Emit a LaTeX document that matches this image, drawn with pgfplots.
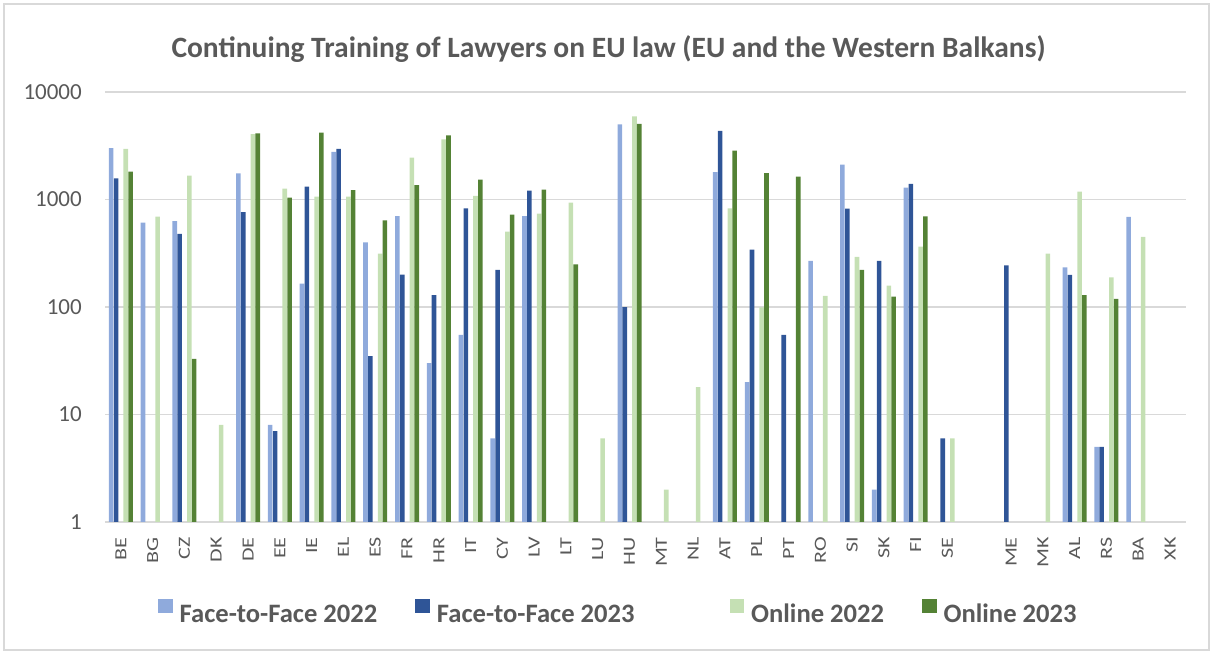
\documentclass[border=0pt]{standalone}
\usepackage{fontspec}
\setmainfont{Carlito}
\usepackage{pgfplots}
\pgfplotsset{compat=1.18}
\definecolor{txt}{HTML}{595959}
\definecolor{gridc}{HTML}{D9D9D9}
\definecolor{fa}{HTML}{8FAADC}
\definecolor{fb}{HTML}{2F5597}
\definecolor{oa}{HTML}{C5E0B4}
\definecolor{ob}{HTML}{548235}
\begin{document}
\begin{tikzpicture}
\useasboundingbox (0bp,0bp) rectangle (1211bp,652bp);
\draw[gridc, line width=1.2bp] (4bp,2bp) rectangle (1209bp,648bp);
\node[anchor=base, text=txt, font=\fontsize{29.5bp}{34bp}\selectfont\bfseries, inner sep=0pt] at (608.5bp,594.5bp) {Continuing Training of Lawyers on EU law (EU and the Western Balkans)};
\begin{axis}[
  at={(105bp,130bp)}, anchor=south west,
  scale only axis, width=1081bp, height=430bp,
  ymode=log, ymin=1, ymax=10000,
  xmin=-0.5, xmax=33.5,
  ytick={1,10,100,1000,10000},
  yticklabels={1,10,100,1000,10000},
  xtick={0,1,2,3,4,5,6,7,8,9,10,11,12,13,14,15,16,17,18,19,20,21,22,23,24,25,26,28,29,30,31,32,33},
  xticklabels={BE,BG,CZ,DK,DE,EE,IE,EL,ES,FR,HR,IT,CY,LV,LT,LU,HU,MT,NL,AT,PL,PT,RO,SI,SK,FI,SE,ME,MK,AL,RS,BA,XK},
  major tick length=0pt, minor tick length=0pt, tick style={draw=none},
  ymajorgrids, yminorgrids=false, major grid style={draw=gridc, line width=1.5bp},
  axis line style={draw=none},
  yticklabel style={font=\fontsize{23bp}{27bp}\selectfont, text=txt, anchor=east, inner sep=0pt, xshift=-23bp},
  xticklabel style={font=\fontsize{17bp}{20bp}\selectfont, text=txt, yshift=-15bp, rotate=90, xscale=1.3, anchor=east, inner sep=0pt},
  legend style={at={(0.049,-0.2084)}, anchor=west, draw=none, fill=none, legend columns=4,
    font=\fontsize{26.6bp}{30bp}\selectfont\bfseries, text=txt, inner sep=0pt, nodes={inner sep=0pt},
    /tikz/every odd column/.style={column sep=7bp}, /tikz/every even column/.style={column sep=38bp}},
  legend image code/.code={\fill[#1] (0bp,0.8bp) rectangle (14.5bp,15.3bp);},
]
\addplot[ybar, bar width=4.6bp, bar shift=-9.7bp, fill=fa, draw=none] coordinates {
(0,3000) (1,610) (2,630) (4,1750) (5,8) (6,165) (7,2770) (8,400) (9,700) (10,30) (11,55) (12,6) (13,700)
(16,5000) (19,1800) (20,20) (22,268) (23,2110) (24,2) (25,1290) (30,234) (31,5) (32,690)};
\addlegendentry{Face-to-Face 2022}
\addplot[ybar, bar width=4.6bp, bar shift=-4.8bp, fill=fb, draw=none] coordinates {
(0,1575) (2,480) (4,765) (5,7) (6,1315) (7,2950) (8,35) (9,200) (10,129) (11,828) (12,221) (13,1208)
(16,100) (19,4340) (20,341) (21,55) (23,822) (24,268) (25,1400) (26,6) (28,244) (30,199) (31,5)};
\addlegendentry{Face-to-Face 2023\rule{57bp}{0pt}}
\addplot[ybar, bar width=4.6bp, bar shift=4.9bp, fill=oa, draw=none] coordinates {
(0,2950) (1,692) (2,1667) (3,8) (4,4066) (5,1261) (6,1062) (7,1062) (8,313) (9,2450) (10,3630) (11,1078)
(12,502) (13,738) (14,935) (15,6) (16,5940) (17,2) (18,18) (19,828) (20,99) (22,127) (23,292) (24,158)
(25,364) (26,6) (29,313) (30,1183) (31,189) (32,448)};
\addlegendentry{Online 2022}
\addplot[ybar, bar width=4.6bp, bar shift=9.7bp, fill=ob, draw=none] coordinates {
(0,1815) (2,33) (4,4128) (5,1040) (6,4188) (7,1225) (8,640) (9,1364) (10,3955) (11,1529) (12,722) (13,1234)
(14,249) (16,5040) (19,2846) (20,1763) (21,1630) (23,222) (24,125) (25,697) (30,129) (31,119)};
\addlegendentry{Online 2023}
\end{axis}
\end{tikzpicture}
\end{document}
